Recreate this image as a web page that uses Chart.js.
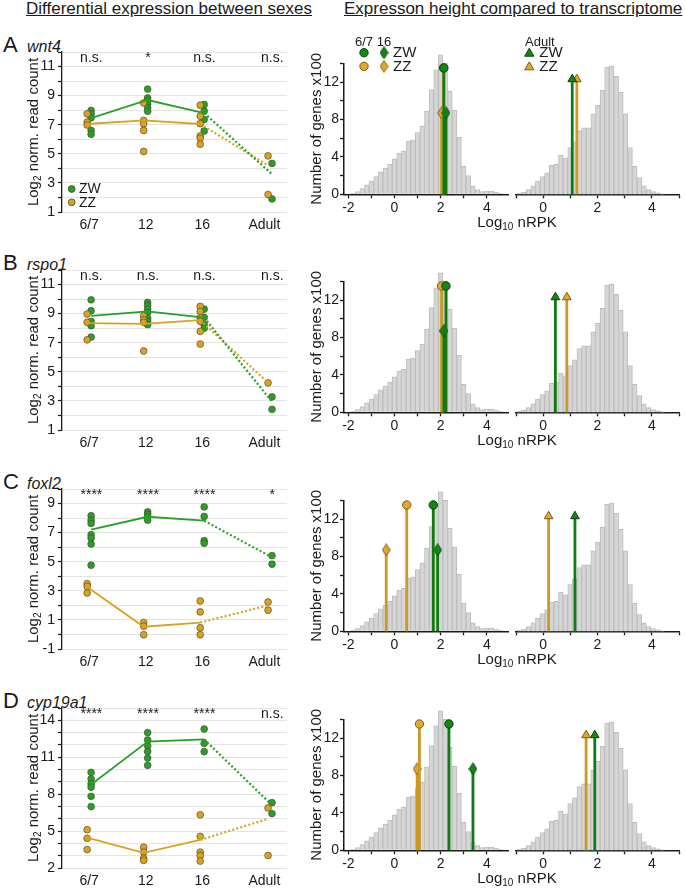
<!DOCTYPE html>
<html>
<head>
<meta charset="utf-8">
<script src="https://cdn.jsdelivr.net/npm/chart.js@4.4.1/dist/chart.umd.min.js"></script>
<style>
body { margin: 0; background: #fff; }
#fig { position: relative; width: 685px; height: 890px; overflow: hidden; background: #fff;
       font-family: "Liberation Sans", Arial, sans-serif; color: #1a1a1a; }
#fig canvas { position: absolute; }
.hdr { position: absolute; top: 0px; font-size: 17px; line-height: 17px; text-decoration: underline; white-space: nowrap; }
.let { position: absolute; left: 3px; font-size: 22px; line-height: 22px; }
.gene { position: absolute; left: 27px; font-size: 16px; line-height: 16px; font-style: italic; }
</style>
</head>
<body>
<div id="fig">
  <div class="hdr" style="left:26px">Differential expression between sexes</div>
  <div class="hdr" style="left:344px">Expresson height compared to transcriptome</div>
</div>
<script>
var stageLabels = ['6/7', '12', '16', 'Adult'];
var genes = ['wnt4', 'rspo1', 'foxl2', 'cyp19a1'];
var letters = ['A', 'B', 'C', 'D'];

// wnt4 - log2 normalised read counts, one list per stage
var wnt4ZW = [[7.98, 7.75, 7.48, 6.61, 6.34], [9.45, 8.84, 8.66, 8.43, 8.16, 7.93], [8.39, 7.93, 7.36, 6.57], [4.34, 1.9]];
var wnt4ZZ = [[7.75, 7.18, 6.98], [8.5, 7.3, 7.07, 6.61, 5.16], [8.34, 7.59, 7.07, 6.23, 6.07, 5.66], [4.86, 2.2]];
var wnt4MeanZW = [7.45, 8.7, 7.8, 3.6];
var wnt4MeanZZ = [7.05, 7.3, 7.05, 4.2];
var wnt4Sig = ['n.s.', '*', 'n.s.', 'n.s.'];

// rspo1
var rspo1ZW = [[9.95, 9.2, 8.47, 8.17, 7.39], [9.77, 9.56, 9.31, 9.08, 8.67, 8.47, 8.24], [9.31, 8.74, 8.24, 8.0], [3.28, 2.42]];
var rspo1ZZ = [[8.97, 8.4, 7.2], [8.85, 8.58, 8.4, 6.43], [9.5, 9.15, 8.7, 8.47, 7.78, 6.91], [4.24]];
var rspo1MeanZW = [8.85, 9.15, 8.72, 2.95];
var rspo1MeanZZ = [8.35, 8.3, 8.55, 4.25];
var rspo1Sig = ['n.s.', 'n.s.', 'n.s.', 'n.s.'];

// foxl2
var foxl2ZW = [[8.16, 7.86, 7.63, 6.86, 6.63, 6.22, 4.76], [8.43, 8.27, 8.09, 7.86], [8.77, 8.11, 6.45, 6.27], [5.42, 4.83]];
var foxl2ZZ = [[3.49, 3.3, 2.85], [0.82, 0.57, -0.02], [2.3, 1.55, 0.46, -0.02], [2.23, 1.67]];
var foxl2MeanZW = [7.2, 8.09, 7.82, 5.3];
var foxl2MeanZZ = [3.26, 0.53, 0.82, 2.0];
var foxl2Sig = ['****', '****', '****', '*'];

// cyp19a1
var cyp19a1ZW = [[9.77, 9.24, 8.84, 8.57, 7.82, 6.99], [13.0, 12.4, 11.92, 11.46, 10.93, 10.34], [13.29, 12.13, 11.46], [7.31, 6.42]];
var cyp19a1ZZ = [[5.11, 4.41, 3.5], [3.69, 3.29, 2.8, 2.62], [6.32, 4.57, 3.29, 3.02, 2.56], [6.88, 3.02]];
var cyp19a1MeanZW = [8.78, 12.27, 12.45, 7.1];
var cyp19a1MeanZZ = [4.47, 3.23, 4.28, 6.0];
var cyp19a1Sig = ['****', '****', '****', 'n.s.'];

// y axis ranges and labelled ticks of the left panels
var yMins = [1, 1, -1, 2];
var yMaxs = [12, 12, 10, 15];
var yLabelled = [[1, 3, 5, 7, 9, 11], [1, 3, 5, 7, 9, 11], [-1, 1, 3, 5, 7, 9], [2, 5, 8, 11, 14]];

// transcriptome histograms (Log10 nRPK bins, number of genes x100)
var embBins = [-1.8, -1.6, -1.4, -1.2, -1.0, -0.8, -0.6, -0.4, -0.2, 0.0, 0.2, 0.4, 0.6, 0.8, 1.0, 1.2, 1.4,
               1.6, 1.8, 2.0, 2.2, 2.4, 2.6, 2.8, 3.0, 3.2, 3.4, 3.6, 3.8, 4.0, 4.2, 4.4, 4.6];
var embCounts = [0.1, 0.3, 0.6, 1.0, 1.4, 1.9, 2.4, 2.8, 3.2, 3.8, 4.4, 4.6, 5.7, 5.8, 6.6, 7.3, 8.9,
                 11.2, 13.3, 14.9, 14.0, 11.0, 9.0, 6.1, 3.0, 2.0, 0.9, 0.5, 0.3, 0.35, 0.35, 0.25, 0.1];
var adultBins = [-0.88, -0.71, -0.54, -0.37, -0.20, -0.03, 0.14, 0.31, 0.48, 0.65, 0.82, 0.99, 1.16, 1.33, 1.50, 1.67,
                 1.84, 2.01, 2.18, 2.35, 2.52, 2.69, 2.86, 3.03, 3.20, 3.37, 3.54, 3.71, 3.88, 4.05, 4.22, 4.39];
var adultCounts = [0.1, 0.25, 0.5, 0.9, 1.4, 1.9, 2.3, 3.1, 3.2, 4.2, 3.9, 5.0, 5.6, 6.8, 7.1, 7.1,
                   8.6, 9.5, 11.1, 13.6, 13.7, 12.6, 10.9, 8.6, 5.0, 3.0, 1.8, 0.9, 0.5, 0.3, 0.15, 0.05];
var embTicks = [-2, -1, 0, 1, 2, 3, 4];
var adultTicks = [-1, 0, 1, 2, 3, 4, 5];
var countTicks = [0, 2, 4, 6, 8, 10, 12, 14];

// mean expression of each gene, Log10 nRPK: [6/7, 16] and adult [ZW, ZZ]
var wnt4EmbZW = [2.14, 2.23], wnt4EmbZZ = [2.12, 2.04], wnt4Adult = [1.07, 1.24];
var rspo1EmbZW = [2.23, 2.14], rspo1EmbZZ = [2.04, 2.12], rspo1Adult = [0.45, 0.87];
var foxl2EmbZW = [1.68, 1.87], foxl2EmbZZ = [0.53, -0.36], foxl2Adult = [1.17, 0.2];
var cyp19a1EmbZW = [2.36, 3.4], cyp19a1EmbZZ = [1.08, 0.98], cyp19a1Adult = [1.9, 1.58];

// ---- layout / style ----
var rowY = [0, 218, 437, 656];
var stagePos = [1, 2, 3, 4.2];
var labelPos = [1, 2, 3, 4.1];
var fontFam = '"Liberation Sans", Arial, sans-serif';
var ink = '#1a1a1a';
var green = '#26a126', gold = '#d9a21f';
var ptEdge = 'rgba(75,70,50,0.8)';
var stemGreen = '#127a12', stemGold = '#cc9a24';
var mkGreen = '#138813', mkGold = '#e2a72c';
var mkEdgeGreen = '#0b3f0b', mkEdgeGold = '#7d5c18';
var stemTop = { circle: 13.5, diamond: 8.7, triangle: 12.3 };

var fig = document.getElementById('fig');

function addCanvas(left, top, w, h) {
  var c = document.createElement('canvas');
  c.width = w; c.height = h;
  c.style.left = left + 'px'; c.style.top = top + 'px';
  c.style.width = w + 'px'; c.style.height = h + 'px';
  fig.appendChild(c);
  return c;
}

function addDiv(cls, left, top, txt) {
  var d = document.createElement('div');
  d.className = cls;
  if (left !== null) d.style.left = left + 'px';
  d.style.top = top + 'px';
  d.textContent = txt;
  fig.appendChild(d);
}

// draws text pieces (text, size, dy) centred on cx
function textRun(ctx, parts, cx, cy) {
  var total = 0;
  parts.forEach(function(p) { ctx.font = p[1] + 'px ' + fontFam; total += ctx.measureText(p[0]).width; });
  var x = cx - total / 2;
  ctx.textAlign = 'left';
  ctx.textBaseline = 'middle';
  parts.forEach(function(p) {
    ctx.font = p[1] + 'px ' + fontFam;
    ctx.fillText(p[0], x, cy + p[2]);
    x += ctx.measureText(p[0]).width;
  });
}

function diamondImg(fill, edge) {
  var c = document.createElement('canvas');
  c.width = 9; c.height = 13;
  var g = c.getContext('2d');
  g.beginPath();
  g.moveTo(4.5, 0.6); g.lineTo(8.4, 6.5); g.lineTo(4.5, 12.4); g.lineTo(0.6, 6.5); g.closePath();
  g.fillStyle = fill; g.fill();
  g.strokeStyle = edge; g.lineWidth = 1; g.stroke();
  return c;
}
var diaGreen = diamondImg(mkGreen, mkEdgeGreen);
var diaGold = diamondImg(mkGold, mkEdgeGold);

function drawMarker(ctx, type, x, y, fill, edge) {
  ctx.save();
  ctx.fillStyle = fill; ctx.strokeStyle = edge; ctx.lineWidth = 1;
  ctx.beginPath();
  if (type === 'circle') {
    ctx.arc(x, y, 4.2, 0, Math.PI * 2);
  } else if (type === 'triangle') {
    ctx.moveTo(x, y - 5); ctx.lineTo(x + 4.6, y + 3); ctx.lineTo(x - 4.6, y + 3); ctx.closePath();
  } else if (type === 'dot') {
    ctx.arc(x, y, 3.4, 0, Math.PI * 2);
  }
  ctx.fill(); ctx.stroke();
  ctx.restore();
}

// ---- left column: read counts per stage ----
function makeLeft(r, zw, zz, mZW, mZZ, sig) {
  var top = 30 + rowY[r];
  var cv = addCanvas(0, top, 300, 205);
  var ptsZW = [], ptsZZ = [];
  zw.forEach(function(g, i) { g.forEach(function(v) { ptsZW.push({ x: stagePos[i] + 0.035, y: v }); }); });
  zz.forEach(function(g, i) { g.forEach(function(v) { ptsZZ.push({ x: stagePos[i] - 0.035, y: v }); }); });
  function meanLine(m, off, from, to) {
    var d = [];
    for (var i = from; i <= to; i++) d.push({ x: stagePos[i] + off, y: m[i] });
    return d;
  }
  var yTicks = [];
  for (var v = yMins[r]; v <= yMaxs[r]; v++) yTicks.push(v);

  var deco = {
    id: 'decoLeft' + r,
    afterDraw: function(chart) {
      var ctx = chart.ctx, a = chart.chartArea, xs = chart.scales.x;
      ctx.save();
      ctx.fillStyle = ink;
      ctx.font = '14px ' + fontFam;
      ctx.textAlign = 'center';
      ctx.textBaseline = 'middle';
      sig.forEach(function(s, i) { ctx.fillText(s, xs.getPixelForValue(stagePos[i] + 0.04), a.top + 6); });
      ctx.save();
      ctx.translate(34, (a.top + a.bottom) / 2);
      ctx.rotate(-Math.PI / 2);
      textRun(ctx, [['Log', 15, 0], ['2', 10, 4], [' norm. read count', 15, 0]], 0, 0);
      ctx.restore();
      if (r === 0) {
        drawMarker(ctx, 'dot', 71.7, 159, green, ptEdge);
        drawMarker(ctx, 'dot', 71.7, 172.3, gold, ptEdge);
        ctx.fillStyle = ink;
        ctx.font = '14px ' + fontFam;
        ctx.textAlign = 'left';
        ctx.fillText('ZW', 79, 159.5);
        ctx.fillText('ZZ', 79, 172.8);
      }
      ctx.restore();
    }
  };

  new Chart(cv, {
    type: 'scatter',
    data: {
      datasets: [
        { type: 'line', data: meanLine(mZW, 0.035, 0, 2), borderColor: green, borderWidth: 1.8, pointRadius: 0, showLine: true, order: 0 },
        { type: 'line', data: meanLine(mZW, 0.035, 2, 3), borderColor: green, borderWidth: 2.2, borderDash: [2, 2.2], pointRadius: 0, showLine: true, order: 0 },
        { type: 'line', data: meanLine(mZZ, -0.035, 0, 2), borderColor: gold, borderWidth: 1.8, pointRadius: 0, showLine: true, order: 0 },
        { type: 'line', data: meanLine(mZZ, -0.035, 2, 3), borderColor: gold, borderWidth: 2.2, borderDash: [2, 2.2], pointRadius: 0, showLine: true, order: 0 },
        { type: 'scatter', data: ptsZW, pointRadius: 3.4, pointBackgroundColor: green, pointBorderColor: ptEdge, pointBorderWidth: 0.8, order: 2 },
        { type: 'scatter', data: ptsZZ, pointRadius: 3.4, pointBackgroundColor: gold, pointBorderColor: ptEdge, pointBorderWidth: 0.8, order: 1 }
      ]
    },
    options: {
      responsive: false,
      animation: false,
      events: [],
      layout: { padding: { top: 22, right: 13, left: 0, bottom: 0 } },
      plugins: { legend: { display: false }, tooltip: { enabled: false } },
      scales: {
        x: {
          type: 'linear', min: 0.52, max: 4.5,
          afterBuildTicks: function(s) { s.ticks = labelPos.map(function(v) { return { value: v }; }); },
          grid: { display: false, drawTicks: false },
          border: { display: false },
          ticks: {
            autoSkip: false, maxRotation: 0, padding: 5, color: ink,
            font: { family: fontFam, size: 14 },
            callback: function(v, i) { return stageLabels[i]; }
          },
          afterFit: function(s) { s.height = 23; }
        },
        y: {
          min: yMins[r], max: yMaxs[r],
          afterBuildTicks: function(s) { s.ticks = yTicks.map(function(v) { return { value: v }; }); },
          grid: { color: '#e4e4e4', lineWidth: 1, tickColor: ink, tickLength: 4, tickWidth: 1.2 },
          border: { display: true, color: ink, width: 1.3 },
          ticks: {
            autoSkip: false, padding: 3, color: ink,
            font: { family: fontFam, size: 14 },
            callback: function(v) { return yLabelled[r].indexOf(v) >= 0 ? String(v) : ''; }
          },
          afterFit: function(s) { s.width = 62; }
        }
      }
    },
    plugins: [deco]
  });
}

// ---- right column: position in the transcriptome ----
function stem(x, type, isZW) {
  var ps = type === 'diamond' ? (isZW ? diaGreen : diaGold) : type;
  return {
    type: 'line',
    data: [{ x: x, y: 0 }, { x: x, y: stemTop[type] }],
    borderColor: isZW ? stemGreen : stemGold,
    borderWidth: 2.8,
    pointRadius: [0, type === 'circle' ? 4.2 : 5],
    pointStyle: ps,
    pointBackgroundColor: isZW ? mkGreen : mkGold,
    pointBorderColor: isZW ? mkEdgeGreen : mkEdgeGold,
    pointBorderWidth: 1,
    clip: false,
    order: isZW ? 0 : 1
  };
}

function histOptions(xmin, xmax, xticks, showY, pad) {
  return {
    responsive: false,
    animation: false,
    events: [],
    layout: { padding: pad },
    plugins: { legend: { display: false }, tooltip: { enabled: false } },
    scales: {
      x: {
        type: 'linear', min: xmin, max: xmax, offset: false,
        afterBuildTicks: function(s) { s.ticks = xticks.map(function(v) { return { value: v }; }); },
        grid: { display: true, offset: false, drawOnChartArea: false, drawTicks: true, tickLength: 4, tickColor: ink, tickWidth: 1.3 },
        border: { display: true, color: ink, width: 1.5 },
        ticks: {
          autoSkip: false, maxRotation: 0, padding: 1, color: ink,
          font: { family: fontFam, size: 14 },
          callback: function(v) { return v % 2 === 0 ? String(v) : ''; }
        },
        afterFit: function(s) { s.height = 35.7; }
      },
      y: {
        display: showY, min: 0, max: 14,
        afterBuildTicks: function(s) { s.ticks = countTicks.map(function(v) { return { value: v }; }); },
        grid: { display: true, drawOnChartArea: false, tickLength: 4, tickColor: ink, tickWidth: 1.3 },
        border: { display: true, color: ink, width: 1.5 },
        ticks: {
          autoSkip: false, padding: 1, color: ink,
          font: { family: fontFam, size: 14 },
          callback: function(v) { return v % 4 === 0 ? String(v) : ''; }
        },
        afterFit: function(s) { s.width = showY ? 54 : 0; }
      }
    }
  };
}

function barSet(bins, counts) {
  return {
    type: 'bar',
    data: bins.map(function(b, i) { return { x: b, y: counts[i] }; }),
    backgroundColor: '#d6d6d6',
    borderColor: '#bdbdbd',
    borderWidth: 1,
    barPercentage: 1,
    categoryPercentage: 1,
    clip: false,
    order: 5
  };
}

function makeHist(r, embZW, embZZ, adult) {
  var top = 30 + rowY[r];
  var cvL = addCanvas(290, top, 225, 200);
  var cvR = addCanvas(470, top, 215, 200);

  var decoL = {
    id: 'decoHistL' + r,
    afterDraw: function(chart) {
      var ctx = chart.ctx, a = chart.chartArea;
      ctx.save();
      ctx.fillStyle = ink;
      ctx.save();
      ctx.translate(26.7, (a.top + a.bottom) / 2);
      ctx.rotate(-Math.PI / 2);
      textRun(ctx, [['Number of genes x100', 15, 0]], 0, 0);
      ctx.restore();
      if (r === 0) {
        ctx.font = '13px ' + fontFam;
        ctx.textAlign = 'center';
        ctx.textBaseline = 'middle';
        ctx.fillText('6/7', 74, 12);
        ctx.fillText('16', 94, 12);
        drawMarker(ctx, 'circle', 74, 22.7, mkGreen, mkEdgeGreen);
        ctx.drawImage(diaGreen, 94 - 4.5, 22.7 - 6.5);
        drawMarker(ctx, 'circle', 74, 36.3, mkGold, mkEdgeGold);
        ctx.drawImage(diaGold, 94 - 4.5, 36.3 - 6.5);
        ctx.fillStyle = ink;
        ctx.font = '15px ' + fontFam;
        ctx.textAlign = 'left';
        ctx.fillText('ZW', 103, 23.2);
        ctx.fillText('ZZ', 103, 36.8);
      }
      ctx.restore();
    }
  };
  var decoR = {
    id: 'decoHistR' + r,
    afterDraw: function(chart) {
      var ctx = chart.ctx;
      ctx.save();
      ctx.fillStyle = ink;
      textRun(ctx, [['Log', 15, 0], ['10', 10, 4], [' nRPK', 15, 0]], 47, 193);
      if (r === 0) {
        ctx.font = '13px ' + fontFam;
        ctx.textAlign = 'left';
        ctx.textBaseline = 'middle';
        ctx.fillText('Adult', 55, 12);
        drawMarker(ctx, 'triangle', 59.3, 23.2, mkGreen, mkEdgeGreen);
        drawMarker(ctx, 'triangle', 59.3, 36.8, mkGold, mkEdgeGold);
        ctx.fillStyle = ink;
        ctx.font = '15px ' + fontFam;
        ctx.fillText('ZW', 69.3, 23.2);
        ctx.fillText('ZZ', 69.3, 36.8);
      }
      ctx.restore();
    }
  };

  new Chart(cvL, {
    type: 'bar',
    data: {
      datasets: [
        barSet(embBins, embCounts),
        stem(embZZ[0], 'circle', false),
        stem(embZZ[1], 'diamond', false),
        stem(embZW[0], 'circle', true),
        stem(embZW[1], 'diamond', true)
      ]
    },
    options: histOptions(-2.19, 4.92, embTicks, true, { top: 33.3, right: 7, left: 0, bottom: 0 }),
    plugins: [decoL]
  });

  new Chart(cvR, {
    type: 'bar',
    data: {
      datasets: [
        barSet(adultBins, adultCounts),
        stem(adult[1], 'triangle', false),
        stem(adult[0], 'triangle', true)
      ]
    },
    options: histOptions(-1, 5, adultTicks, false, { top: 33.3, right: 2, left: 46, bottom: 0 }),
    plugins: [decoR]
  });
}

var leftData = [
  [wnt4ZW, wnt4ZZ, wnt4MeanZW, wnt4MeanZZ, wnt4Sig],
  [rspo1ZW, rspo1ZZ, rspo1MeanZW, rspo1MeanZZ, rspo1Sig],
  [foxl2ZW, foxl2ZZ, foxl2MeanZW, foxl2MeanZZ, foxl2Sig],
  [cyp19a1ZW, cyp19a1ZZ, cyp19a1MeanZW, cyp19a1MeanZZ, cyp19a1Sig]
];
var histData = [
  [wnt4EmbZW, wnt4EmbZZ, wnt4Adult],
  [rspo1EmbZW, rspo1EmbZZ, rspo1Adult],
  [foxl2EmbZW, foxl2EmbZZ, foxl2Adult],
  [cyp19a1EmbZW, cyp19a1EmbZZ, cyp19a1Adult]
];

for (var r = 0; r < 4; r++) {
  addDiv('let', null, 34 + rowY[r], letters[r]);
  addDiv('gene', 27, 38.5 + rowY[r], genes[r]);
  makeLeft(r, leftData[r][0], leftData[r][1], leftData[r][2], leftData[r][3], leftData[r][4]);
  makeHist(r, histData[r][0], histData[r][1], histData[r][2]);
}
</script>
</body>
</html>
